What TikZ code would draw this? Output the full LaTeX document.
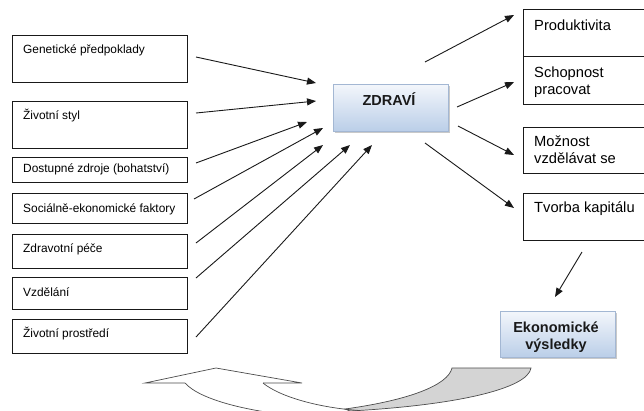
\documentclass[tikz,border=0pt]{standalone}
\usepackage{fontspec}
\setmainfont{Liberation Sans}
\usetikzlibrary{arrows.meta,shadows}
\definecolor{zTop}{HTML}{F3F6FB}
\definecolor{zBot}{HTML}{BACEE8}
\definecolor{zBorder}{HTML}{A3B7D3}
\definecolor{bandgray}{HTML}{D4D4D4}
\begin{document}
\begin{tikzpicture}[x=1pt,y=-1pt,
  box/.style={draw=black!90, line width=0.9pt, fill=white, inner sep=0pt, anchor=north west},
  lbox/.style={box, minimum width=175pt},
  rbox/.style={box, minimum width=150pt},
  ltext/.style={anchor=base west, inner sep=0pt, font=\fontsize{11.9}{14}\selectfont},
  rtext/.style={anchor=base west, inner sep=0pt, font=\fontsize{14.7}{17}\selectfont},
  hbox/.style={draw=zBorder, line width=0.8pt, top color=zTop, bottom color=zBot, inner sep=0pt, anchor=north west,
    drop shadow={shadow xshift=1.5pt, shadow yshift=-2pt, opacity=0.35, fill=black!60}},
  htext/.style={anchor=base, inner sep=0pt, text=black!90, font=\bfseries\fontsize{14.5}{17}\selectfont},
  arr/.style={draw=black!90, line width=0.9pt, -{Triangle[length=9pt,width=7pt]}},
  cline/.style={draw=black!70, line width=0.7pt},
]
\useasboundingbox (0,0) rectangle (644,410);
\clip (0,0) rectangle (644,410);
\fill[white] (0,0) rectangle (644,410);

% left boxes
\node[lbox, minimum height=47pt] (gen)  at (12,35)  {};
\node[lbox, minimum height=47pt] (styl) at (12,101) {};
\node[lbox, minimum height=25pt] (zdr)  at (12,157) {};
\node[lbox, minimum height=30pt] (soc)  at (12,193) {};
\node[lbox, minimum height=34pt] (pece) at (12,234) {};
\node[lbox, minimum height=32pt] (vzd)  at (12,277) {};
\node[lbox, minimum height=34pt] (pro)  at (12,319) {};
\node[ltext] (genT)  at (23,53)  {Genetické předpoklady};
\node[ltext] (stylT) at (23,119) {Životní styl};
\node[ltext] (zdrT)  at (23,172) {Dostupné zdroje (bohatství)};
\node[ltext] (socT)  at (23,212) {Sociálně-ekonomické faktory};
\node[ltext] (peceT) at (23,252) {Zdravotní péče};
\node[ltext] (vzdT)  at (23,296) {Vzdělání};
\node[ltext] (proT)  at (23,337) {Životní prostředí};

% right boxes
\node[rbox, minimum height=47pt] (prod) at (523,9)   {};
\node[rbox, minimum height=48pt] (sch)  at (523,56)  {};
\node[rbox, minimum height=46pt] (moz)  at (523,127) {};
\node[rbox, minimum height=47pt] (tvo)  at (523,193) {};
\node[rtext] (prodT) at (534,30)  {Produktivita};
\node[rtext] (schT1) at (534,77)  {Schopnost};
\node[rtext] (schT2) at (534,94)  {pracovat};
\node[rtext] (mozT1) at (534,146) {Možnost};
\node[rtext] (mozT2) at (534,163) {vzdělávat se};
\node[rtext] (tvoT)  at (534,212) {Tvorba kapitálu};

% highlighted boxes
\node[hbox, minimum width=115pt, minimum height=47pt] (zdravi) at (333,84) {};
\node[htext] (zdraviT) at (389,105) {ZDRAVÍ};
\node[hbox, minimum width=115pt, minimum height=46pt] (eko) at (500,311) {};
\node[htext] (ekoT1) at (556,332) {Ekonomické};
\node[htext] (ekoT2) at (556,349) {výsledky};

% arrow end points
\coordinate (s1) at (196,57);  \coordinate (e1) at (316,83);
\coordinate (s2) at (196,113); \coordinate (e2) at (316,101);
\coordinate (s3) at (196,163); \coordinate (e3) at (307,122);
\coordinate (s4) at (194,199); \coordinate (e4) at (323,128);
\coordinate (s5) at (196,243); \coordinate (e5) at (323,145);
\coordinate (s6) at (196,278); \coordinate (e6) at (350,145);
\coordinate (s7) at (196,337); \coordinate (e7) at (372,145);
\coordinate (r1s) at (425,62);  \coordinate (r1e) at (514,15);
\coordinate (r2s) at (457,107); \coordinate (r2e) at (514,82);
\coordinate (r3s) at (458,126); \coordinate (r3e) at (514,155);
\coordinate (r4s) at (425,143); \coordinate (r4e) at (514,208);
\coordinate (ts) at (582,252);  \coordinate (te) at (555,297);

\draw[arr] (s1) -- (e1);
\draw[arr] (s2) -- (e2);
\draw[arr] (s3) -- (e3);
\draw[arr] (s4) -- (e4);
\draw[arr] (s5) -- (e5);
\draw[arr] (s6) -- (e6);
\draw[arr] (s7) -- (e7);
\draw[arr] (r1s) -- (r1e);
\draw[arr] (r2s) -- (r2e);
\draw[arr] (r3s) -- (r3e);
\draw[arr] (r4s) -- (r4e);
\draw[arr] (ts) -- (te);

% curved arrow at the bottom
\filldraw[cline, fill=bandgray] (452,368) -- (531,368)
  .. controls (528,388) and (460,405) .. (350,411)
  -- (345,409) .. controls (410,400) and (448,385) .. (452,368) -- cycle;
\draw[cline] (185,383) -- (145,383) -- (216,368) -- (302,383) -- (263,383);
\draw[cline] (185,383) .. controls (200,400) and (250,412) .. (300,416);
\draw[cline] (263,383) .. controls (280,397) and (320,408) .. (360,410.5);
\end{tikzpicture}
\end{document}
